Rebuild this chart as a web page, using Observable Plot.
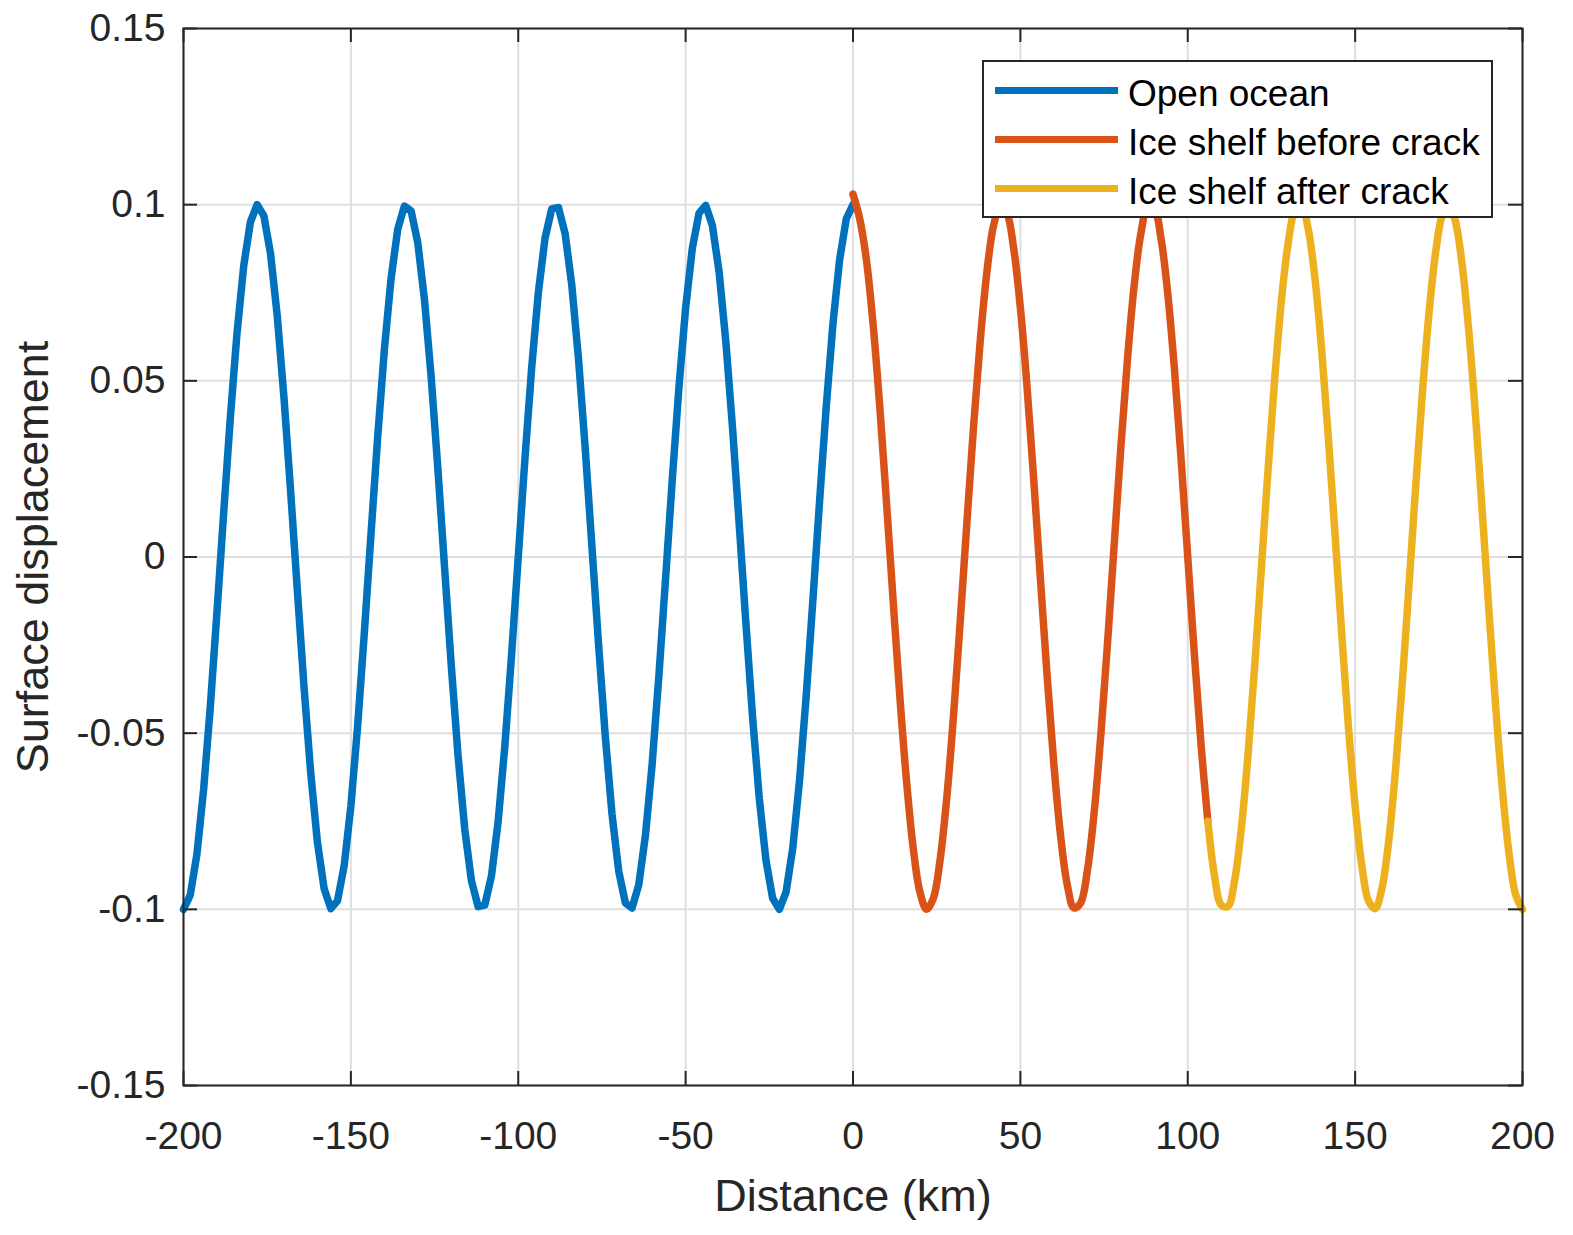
<!DOCTYPE html>
<html>
<head>
<meta charset="utf-8">
<script src="https://cdn.jsdelivr.net/npm/d3@7"></script>
<script src="https://cdn.jsdelivr.net/npm/@observablehq/plot@0.6"></script>
<style>
  html, body { margin: 0; padding: 0; background: #fff; }
  #wrap { position: relative; width: 1573px; height: 1235px; font-family: "Liberation Sans", Arial, sans-serif; }
  #legend { position: absolute; left: 982px; top: 60px; width: 511px; height: 158px; box-sizing: border-box;
    border: 2px solid #262626; background: #fff; padding-top: 4px; }
  .row { display: flex; align-items: center; height: 49px; }
  .sw { width: 123px; height: 7px; margin-left: 11px; margin-right: 10px; }
  .lab { font-size: 37px; color: #000; line-height: 49px; white-space: nowrap; position: relative; top: 3px; }
</style>
</head>
<body>
<div id="wrap"></div>
<script>
// ---- data ----
const seriesNames = ["Open ocean", "Ice shelf before crack", "Ice shelf after crack"];
const seriesColors = ["#0072BD", "#D95319", "#EDB120"];

// Open ocean: samples every 2 km from -200 to 0
const oceanStart = -200, oceanStep = 2;
const oceanY = [
 -0.1000,-0.0960,-0.0844,-0.0661,-0.0426,-0.0156,0.0125,0.0397,0.0637,0.0827,
 0.0951,0.1000,0.0969,0.0861,0.0685,0.0454,0.0187,-0.0094,-0.0368,-0.0613,
 -0.0809,-0.0941,-0.0998,-0.0976,-0.0876,-0.0707,-0.0482,-0.0218,0.0063,0.0339,
 0.0588,0.0790,0.0930,0.0996,0.0982,0.0891,0.0729,0.0509,0.0249,-0.0031,
 -0.0309,-0.0562,-0.0771,-0.0918,-0.0992,-0.0988,-0.0905,-0.0750,-0.0536,-0.0279,
 0.0000,0.0279,0.0536,0.0750,0.0905,0.0988,0.0992,0.0918,0.0771,0.0562,
 0.0309,0.0031,-0.0249,-0.0509,-0.0729,-0.0891,-0.0982,-0.0996,-0.0930,-0.0790,
 -0.0588,-0.0339,-0.0063,0.0218,0.0482,0.0707,0.0876,0.0976,0.0998,0.0941,
 0.0809,0.0613,0.0368,0.0094,-0.0187,-0.0454,-0.0685,-0.0861,-0.0969,-0.1000,
 -0.0951,-0.0827,-0.0637,-0.0397,-0.0125,0.0156,0.0426,0.0661,0.0844,0.0960,
 0.1000
];

// Ice shelf before crack: every 2 km from 0 to 106
const beforeStart = 0, beforeStep = 2;
const beforeY = [
 0.1030,0.0960,0.0844,0.0661,0.0426,0.0156,-0.0125,-0.0397,-0.0637,-0.0827,
 -0.0951,-0.1000,-0.0969,-0.0861,-0.0685,-0.0454,-0.0187,0.0094,0.0368,0.0613,
 0.0809,0.0941,0.0998,0.0976,0.0876,0.0707,0.0482,0.0218,-0.0063,-0.0339,
 -0.0588,-0.0790,-0.0930,-0.0996,-0.0982,-0.0891,-0.0729,-0.0509,-0.0249,0.0031,
 0.0309,0.0562,0.0771,0.0918,0.0992,0.0988,0.0905,0.0750,0.0536,0.0279,
 0.0000,-0.0279,-0.0536,-0.0750
];

// Ice shelf after crack: every 2 km from 106 to 200
const afterStart = 106, afterStep = 2;
const afterY = [
 -0.0750,-0.0905,-0.0988,-0.0992,-0.0918,-0.0771,-0.0562,-0.0309,-0.0031,0.0249,
 0.0509,0.0729,0.0891,0.0982,0.0996,0.0930,0.0790,0.0588,0.0339,0.0063,
 -0.0218,-0.0482,-0.0707,-0.0876,-0.0976,-0.0998,-0.0941,-0.0809,-0.0613,-0.0368,
 -0.0094,0.0187,0.0454,0.0685,0.0861,0.0969,0.1000,0.0951,0.0827,0.0637,
 0.0397,0.0125,-0.0156,-0.0426,-0.0661,-0.0844,-0.0960,-0.1000
];

const xTicks = [-200, -150, -100, -50, 0, 50, 100, 150, 200];
const xTickLabels = ["-200", "-150", "-100", "-50", "0", "50", "100", "150", "200"];
const yTicks = [-0.15, -0.1, -0.05, 0, 0.05, 0.1, 0.15];
const yTickLabels = ["-0.15", "-0.1", "-0.05", "0", "0.05", "0.1", "0.15"];
const xLabel = "Distance (km)";
const yLabel = "Surface displacement";

// ---- build tables ----
const toRows = (start, step, ys, s) => ys.map((y, i) => ({x: start + i * step, y, s}));
const ocean = toRows(oceanStart, oceanStep, oceanY, seriesNames[0]);
const before = toRows(beforeStart, beforeStep, beforeY, seriesNames[1]);
const after = toRows(afterStart, afterStep, afterY, seriesNames[2]);

const W = 1573, H = 1235;
const mL = 183, mR = 51, mT = 28, mB = 150;
const fh = H - mT - mB, fw = W - mL - mR;
const tl = 14;
const lw = 7.5;
const gridColor = "#dfdfdf", axisColor = "#262626";

const chart = Plot.plot({
  width: W, height: H,
  marginLeft: mL, marginRight: mR, marginTop: mT, marginBottom: mB,
  style: {fontFamily: "'Liberation Sans', Arial, sans-serif", fontSize: "39px", color: axisColor, background: "#fff"},
  x: {domain: [-200, 200], ticks: xTicks},
  y: {domain: [-0.15, 0.15], ticks: yTicks},
  marks: [
    Plot.ruleX(xTicks, {x: d => d, stroke: gridColor, strokeWidth: 2}),
    Plot.ruleY(yTicks, {y: d => d, stroke: gridColor, strokeWidth: 2}),
    Plot.line(ocean, {x: "x", y: "y", stroke: seriesColors[0], strokeWidth: lw, strokeLinejoin: "round"}),
    Plot.line(before, {x: "x", y: "y", stroke: seriesColors[1], strokeWidth: lw, curve: "catmull-rom"}),
    Plot.line(after, {x: "x", y: "y", stroke: seriesColors[2], strokeWidth: lw, curve: "catmull-rom", strokeLinecap: "round"}),
    // inward ticks on all four sides
    Plot.ruleX(xTicks, {x: d => d, stroke: axisColor, strokeWidth: 2, insetTop: fh - tl}),
    Plot.ruleX(xTicks, {x: d => d, stroke: axisColor, strokeWidth: 2, insetBottom: fh - tl}),
    Plot.ruleY(yTicks, {y: d => d, stroke: axisColor, strokeWidth: 2, insetRight: fw - tl}),
    Plot.ruleY(yTicks, {y: d => d, stroke: axisColor, strokeWidth: 2, insetLeft: fw - tl}),
    Plot.frame({stroke: axisColor, strokeWidth: 2}),
    Plot.axisX(xTicks, {anchor: "bottom", tickSize: 0, tickPadding: 36, label: null,
      tickFormat: (d) => xTickLabels[xTicks.indexOf(d)], fontSize: 39}),
    Plot.axisY(yTicks, {anchor: "left", tickSize: 0, tickPadding: 18, label: null,
      tickFormat: (d) => yTickLabels[yTicks.indexOf(d)], fontSize: 39}),
    Plot.text([xLabel], {frameAnchor: "bottom", dy: 111, textAnchor: "middle", lineAnchor: "middle", fontSize: 45, fill: axisColor}),
    Plot.text([yLabel], {frameAnchor: "left", dx: -150, rotate: -90, textAnchor: "middle", lineAnchor: "middle", fontSize: 45, fill: axisColor})
  ]
});

const wrap = document.getElementById("wrap");
wrap.appendChild(chart);

// legend (inside the axes, top-right)
const legend = document.createElement("div");
legend.id = "legend";
seriesNames.forEach((name, i) => {
  const row = document.createElement("div");
  row.className = "row";
  const sw = document.createElement("div");
  sw.className = "sw";
  sw.style.background = seriesColors[i];
  const lab = document.createElement("div");
  lab.className = "lab";
  lab.textContent = name;
  row.appendChild(sw);
  row.appendChild(lab);
  legend.appendChild(row);
});
wrap.appendChild(legend);
</script>
</body>
</html>
